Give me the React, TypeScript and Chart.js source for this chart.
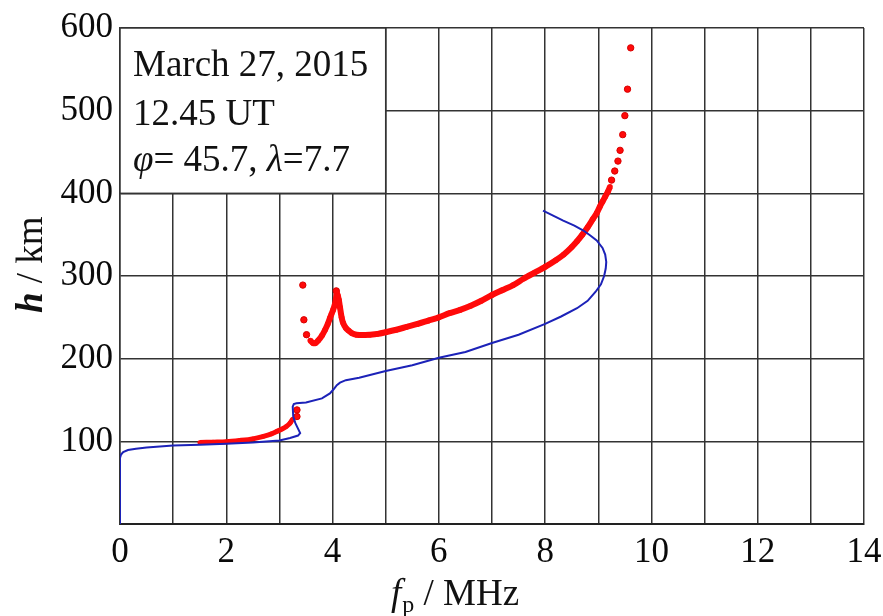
import React, { useEffect, useRef } from "react";
import { Chart, registerables } from "chart.js";

Chart.register(...registerables);

// ---- data ----
const X_TICK_LABELS = [0, 2, 4, 6, 8, 10, 12, 14];
const Y_TICK_LABELS = [100, 200, 300, 400, 500, 600];

// model profile (blue line), f in MHz, h in km
const BLUE_F = [0.0, 0.0, 0.02, 0.06, 0.15, 0.3, 0.5, 1.0, 1.5, 2.0, 2.5, 3.0, 3.2, 3.35, 3.39, 3.3, 3.26, 3.25, 3.27, 3.32, 3.5, 3.8, 3.95, 4.02, 4.08, 4.14, 4.25, 4.5, 5.0, 5.5, 6.0, 6.5, 7.0, 7.5, 8.0, 8.3, 8.6, 8.8, 8.95, 9.05, 9.11, 9.14, 9.15, 9.13, 9.08, 8.97, 8.85, 8.72, 8.55, 8.34, 8.15, 7.96];
const BLUE_H = [0, 80, 84, 87, 89.5, 91, 92.5, 95, 96, 97, 98.5, 101, 104, 107, 110, 122, 130, 142, 145, 146, 147, 152, 158, 163, 168, 171, 174, 177, 185, 192, 201, 208, 219, 229, 242, 251, 261, 270, 281, 290, 300, 309, 317, 326, 334, 343, 349, 355, 361, 367, 373, 379];

// measured profile (red dots) - E region
const RED_E_F = [1.5, 1.75, 2.0, 2.25, 2.5, 2.7, 2.85, 2.95, 3.05, 3.13, 3.2, 3.25];
const RED_E_H = [98.5, 99, 99.5, 101, 103, 106, 109, 112, 115, 118, 122, 127];

// measured profile (red dots) - F region
const RED_F_F = [3.58, 3.63, 3.68, 3.73, 3.8, 3.86, 3.91, 3.95, 3.98, 4.01, 4.04, 4.06, 4.08, 4.1, 4.12, 4.14, 4.17, 4.2, 4.25, 4.3, 4.36, 4.45, 4.57, 4.7, 4.85, 5.0, 5.2, 5.4, 5.6, 5.8, 6.0, 6.2, 6.4, 6.6, 6.8, 7.0, 7.2, 7.4, 7.6, 7.8, 8.0, 8.2, 8.35, 8.5, 8.6, 8.7, 8.8, 8.9, 8.97, 9.03, 9.08, 9.13, 9.18, 9.22];
const RED_F_H = [222, 219, 219, 222, 228, 235, 242, 249, 254, 259, 265, 271, 279, 276, 270, 262, 250, 243, 237, 234, 231, 229, 228.5, 229, 230, 232, 235, 238.5, 242, 246, 250, 255, 259, 264, 270, 277, 283, 289, 297, 304, 311, 319, 326, 335, 342, 350, 359, 369, 376, 384, 390, 396, 402, 408];

// isolated red dots
const RED_S_F = [3.33, 3.33, 3.44, 3.46, 3.51, 4.07, 4.1, 9.25, 9.31, 9.37, 9.41, 9.46, 9.5, 9.55, 9.61];
const RED_S_H = [130, 138, 289, 247, 229, 282, 272, 416, 427, 439, 452, 471, 494, 526, 576];

const INFO_LINES = ["March 27, 2015", "12.45 UT"];
const INFO_COORDS = ["45.7", "7.7"];
const X_TITLE = ["f", "p", " / MHz"];
const Y_TITLE = ["h", " / km"];

const SERIF = "'Liberation Serif', 'Times New Roman', serif";

const zip = (xs: number[], ys: number[]) => xs.map((x, i) => ({ x, y: ys[i] }));

const overlayPlugin = {
  id: "overlay",
  beforeDatasetsDraw(chart: any) {
    const { ctx, scales } = chart;
    const xs = scales.x, ys = scales.y;
    const l = xs.getPixelForValue(0), r = xs.getPixelForValue(5);
    const t = ys.getPixelForValue(600), b = ys.getPixelForValue(400);
    ctx.save();
    ctx.fillStyle = "#ffffff";
    ctx.fillRect(l, t, r - l, b - t);
    ctx.strokeStyle = "#333333";
    ctx.lineWidth = 1.5;
    ctx.strokeRect(l, t, r - l, b - t);
    ctx.fillStyle = "#111111";
    ctx.textBaseline = "alphabetic";
    ctx.textAlign = "left";
    const x0 = l + 13;
    const F = 37;
    ctx.font = `${F}px ${SERIF}`;
    ctx.fillText(INFO_LINES[0], x0, t + 48);
    ctx.fillText(INFO_LINES[1], x0, t + 97);
    let x = x0;
    const y3 = t + 143;
    ctx.font = `italic ${F}px ${SERIF}`;
    ctx.fillText("φ", x, y3);
    x += ctx.measureText("φ").width;
    ctx.font = `${F}px ${SERIF}`;
    const s1 = "= " + INFO_COORDS[0] + ", ";
    ctx.fillText(s1, x, y3);
    x += ctx.measureText(s1).width;
    ctx.font = `italic ${F}px ${SERIF}`;
    ctx.fillText("λ", x, y3);
    x += ctx.measureText("λ").width;
    ctx.font = `${F}px ${SERIF}`;
    ctx.fillText("=" + INFO_COORDS[1], x, y3);
    ctx.restore();
  },
  afterDraw(chart: any) {
    const { ctx, scales } = chart;
    const xs = scales.x;
    ctx.save();
    ctx.fillStyle = "#111111";
    ctx.textBaseline = "alphabetic";
    ctx.textAlign = "left";
    // x title
    let x = xs.getPixelForValue(5.1);
    const base = 605;
    ctx.font = `italic 37px ${SERIF}`;
    ctx.fillText(X_TITLE[0], x, base);
    x += ctx.measureText(X_TITLE[0]).width + 1;
    ctx.font = `24px ${SERIF}`;
    ctx.fillText(X_TITLE[1], x, base + 7);
    x += ctx.measureText(X_TITLE[1]).width;
    ctx.font = `37px ${SERIF}`;
    ctx.fillText(X_TITLE[2], x, base);
    // y title
    ctx.translate(42, 313);
    ctx.rotate(-Math.PI / 2);
    ctx.font = `bold italic 37px ${SERIF}`;
    ctx.fillText(Y_TITLE[0], 0, 0);
    const w = ctx.measureText(Y_TITLE[0]).width;
    ctx.font = `37px ${SERIF}`;
    ctx.fillText(Y_TITLE[1], w, 0);
    ctx.restore();
  },
};

export default function App() {
  const ref = useRef<HTMLCanvasElement>(null);
  useEffect(() => {
    if (!ref.current) return;
    const chart = new Chart(ref.current, {
      type: "scatter",
      data: {
        datasets: [
          {
            label: "model",
            data: zip(BLUE_F, BLUE_H),
            showLine: true,
            borderColor: "#1c22b8",
            borderWidth: 2,
            pointRadius: 0,
            tension: 0,
            fill: false,
          },
          {
            label: "measured E",
            data: zip(RED_E_F, RED_E_H),
            showLine: true,
            borderColor: "#ff0a0a",
            borderWidth: 5,
            pointRadius: 2.3,
            pointBorderWidth: 0,
            pointBackgroundColor: "#ff0a0a",
            tension: 0.3,
          },
          {
            label: "measured F",
            data: zip(RED_F_F, RED_F_H),
            showLine: true,
            borderColor: "#ff0a0a",
            borderWidth: 6,
            pointRadius: 2.8,
            pointBorderWidth: 0,
            pointBackgroundColor: "#ff0a0a",
            tension: 0.3,
          },
          {
            label: "measured sparse",
            data: zip(RED_S_F, RED_S_H),
            showLine: false,
            pointRadius: 3.2,
            pointBackgroundColor: "#ff0a0a",
            pointBorderColor: "#d80000",
            pointBorderWidth: 1,
          },
        ],
      },
      options: {
        responsive: false,
        animation: false,
        devicePixelRatio: 1,
        layout: { padding: { top: 28, right: 19, left: 0, bottom: 0 } },
        plugins: { legend: { display: false }, tooltip: { enabled: false } },
        scales: {
          x: {
            type: "linear",
            min: 0,
            max: 14,
            afterFit: (s: any) => {
              s.height = 92;
              s.paddingLeft = 0;
              s.paddingRight = 0;
            },
            ticks: {
              stepSize: 1,
              padding: 8,
              color: "#0a0a0a",
              font: { family: SERIF, size: 35 },
              callback: (v: any) => (X_TICK_LABELS.includes(Number(v)) ? String(v) : ""),
              maxRotation: 0,
              autoSkip: false,
            },
            grid: { color: "#333333", lineWidth: 1.5, drawTicks: false },
            border: { color: "#222222", width: 2 },
          },
          y: {
            type: "linear",
            min: 0,
            max: 600,
            afterFit: (s: any) => {
              s.width = 120;
              s.paddingTop = 0;
              s.paddingBottom = 0;
            },
            ticks: {
              stepSize: 100,
              padding: 7,
              color: "#0a0a0a",
              font: { family: SERIF, size: 35 },
              callback: (v: any) => (Y_TICK_LABELS.includes(Number(v)) ? String(v) : ""),
            },
            grid: { color: "#333333", lineWidth: 1.5, drawTicks: false },
            border: { color: "#333333", width: 1.5 },
          },
        },
      },
      plugins: [overlayPlugin],
    });
    return () => chart.destroy();
  }, []);
  return (
    <div style={{ position: "fixed", left: 0, top: 0, width: 883, height: 616, background: "#ffffff" }}>
      <canvas ref={ref} width={883} height={616} style={{ display: "block" }} />
    </div>
  );
}
